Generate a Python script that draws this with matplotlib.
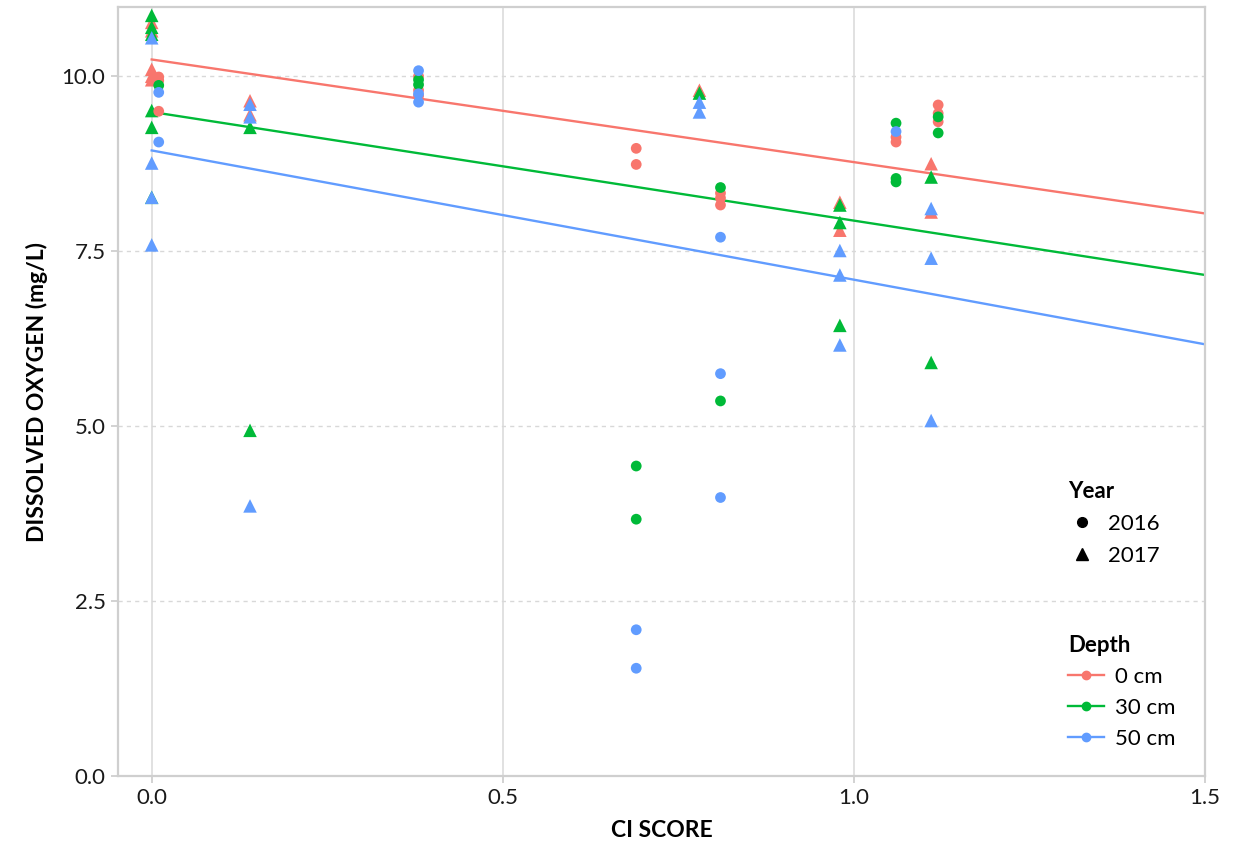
import matplotlib
matplotlib.use("Agg")
import matplotlib.pyplot as plt
from matplotlib.lines import Line2D
import numpy as np

plt.rcParams['font.family'] = ['Lato', 'DejaVu Sans']

# ---- data ----
depth_labels = ["0 cm", "30 cm", "50 cm"]
depth_colors = ["#F8766D", "#00BA38", "#619CFF"]
year_labels = ["2016", "2017"]

# 2016 (circles)
y16_d0_x = [0.01, 0.01, 0.01, 0.38, 0.38, 0.38, 0.69, 0.69, 0.81, 0.81, 0.81, 1.06, 1.06, 1.12, 1.12, 1.12]
y16_d0_y = [9.99, 9.94, 9.50, 10.00, 9.80, 9.72, 8.97, 8.74, 8.33, 8.26, 8.16, 9.13, 9.06, 9.59, 9.47, 9.35]
y16_d30_x = [0.01, 0.38, 0.38, 0.69, 0.69, 0.81, 0.81, 1.06, 1.06, 1.06, 1.12, 1.12]
y16_d30_y = [9.87, 9.95, 9.88, 4.43, 3.67, 8.41, 5.36, 9.33, 8.54, 8.49, 9.42, 9.19]
y16_d50_x = [0.01, 0.01, 0.38, 0.38, 0.38, 0.69, 0.69, 0.81, 0.81, 0.81, 1.06]
y16_d50_y = [9.77, 9.06, 10.08, 9.75, 9.63, 2.09, 1.54, 7.70, 5.75, 3.98, 9.21]

# 2017 (triangles)
y17_d0_x = [0.0, 0.0, 0.0, 0.0, 0.0, 0.14, 0.14, 0.78, 0.98, 0.98, 1.11, 1.11]
y17_d0_y = [10.77, 10.65, 10.10, 10.00, 9.95, 9.65, 9.45, 9.80, 8.20, 7.80, 8.75, 8.06]
y17_d30_x = [0.0, 0.0, 0.0, 0.0, 0.0, 0.0, 0.14, 0.14, 0.78, 0.98, 0.98, 0.98, 1.11, 1.11]
y17_d30_y = [10.87, 10.70, 10.60, 9.51, 9.27, 8.27, 9.27, 4.94, 9.76, 8.16, 7.91, 6.44, 8.56, 5.91]
y17_d50_x = [0.0, 0.0, 0.0, 0.0, 0.14, 0.14, 0.14, 0.78, 0.78, 0.98, 0.98, 0.98, 1.11, 1.11, 1.11]
y17_d50_y = [10.55, 8.76, 8.27, 7.59, 9.60, 9.42, 3.86, 9.63, 9.49, 7.51, 7.16, 6.16, 8.11, 7.40, 5.08]

# fitted regression lines per depth (intercept, slope)
fit_intercepts = [10.24, 9.49, 8.94]
fit_slopes = [-1.467, -1.553, -1.847]

x_ticks = [0.0, 0.5, 1.0, 1.5]
y_ticks = [0.0, 2.5, 5.0, 7.5, 10.0]

# ---- plot ----
fig = plt.figure(figsize=(12.33, 8.5), dpi=100)
ax = fig.add_axes([118/1233, 74/850, (1205-118)/1233, (776-7)/850])

grey = "#cfcfcf"
for xt in x_ticks:
    ax.axvline(xt, color="#dedede", lw=1.3, zorder=0)
for yt in y_ticks[1:]:
    ax.axhline(yt, color="#d8d8d8", lw=1.0, ls=(0, (3, 3)), zorder=0)

xs_line = np.array([0.0, 1.5])
for b, m, c in zip(fit_intercepts, fit_slopes, depth_colors):
    ax.plot(xs_line, b + m * xs_line, color=c, lw=1.7, zorder=2)

tri_sets = [(y17_d0_x, y17_d0_y), (y17_d30_x, y17_d30_y), (y17_d50_x, y17_d50_y)]
circ_sets = [(y16_d0_x, y16_d0_y), (y16_d30_x, y16_d30_y), (y16_d50_x, y16_d50_y)]
for (xv, yv), c in zip(tri_sets, depth_colors):
    ax.scatter(xv, yv, marker="^", s=95, color=c, edgecolors="none", zorder=3)
for (xv, yv), c in zip(circ_sets, depth_colors):
    ax.scatter(xv, yv, marker="o", s=60, color=c, edgecolors="none", zorder=3)

ax.set_xlim(-0.048, 1.5)
ax.set_ylim(0, 10.99)
ax.set_xticks(x_ticks)
ax.set_xticklabels([f"{v:.1f}" for v in x_ticks])
ax.set_yticks(y_ticks)
ax.set_yticklabels([f"{v:.1f}" for v in y_ticks])
ax.tick_params(axis="both", colors=grey, labelcolor="#1a1a1a", labelsize=16,
               length=5, width=1.3, direction="out", pad=4)
for s in ax.spines.values():
    s.set_color(grey)
    s.set_linewidth(1.6)

ax.set_xlabel("CI SCORE", fontsize=16.5, fontweight="bold", color="#000000", labelpad=8)
ax.set_ylabel("DISSOLVED OXYGEN (mg/L)", fontsize=16.5, fontweight="bold", color="#000000", labelpad=10)

year_handles = [Line2D([], [], marker="o", color="black", ls="none", markersize=7),
                Line2D([], [], marker="^", color="black", ls="none", markersize=8)]
leg1 = ax.legend(year_handles, year_labels, title="Year", loc="upper left",
                 bbox_to_anchor=(0.856, 0.41), frameon=False, fontsize=16,
                 title_fontproperties={"weight": "bold", "size": 16},
                 handlelength=1.2, handletextpad=0.6, labelspacing=0.55,
                 alignment="left")
ax.add_artist(leg1)
depth_handles = [Line2D([], [], marker="o", color=c, lw=1.7, markersize=6) for c in depth_colors]
ax.legend(depth_handles, depth_labels, title="Depth", loc="upper left",
          bbox_to_anchor=(0.856, 0.21), frameon=False, fontsize=16,
          title_fontproperties={"weight": "bold", "size": 16},
          handlelength=1.6, handletextpad=0.5, labelspacing=0.5,
          alignment="left")

fig.savefig("out.png", dpi=100, facecolor="white")
